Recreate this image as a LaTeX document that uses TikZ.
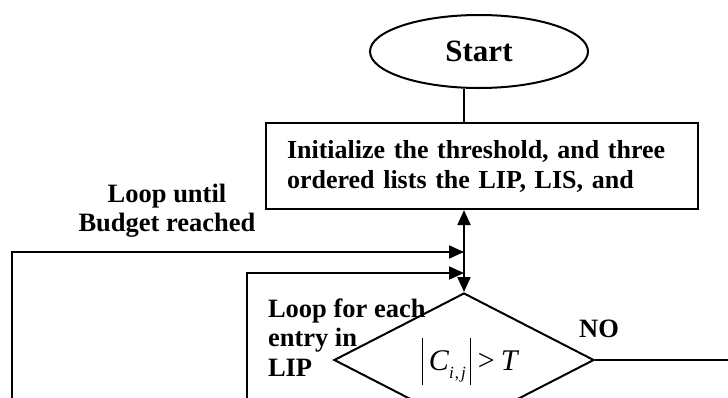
\documentclass[tikz,border=0pt]{standalone}
\usepackage{fontspec}
\setmainfont{Liberation Serif}
\usetikzlibrary{arrows.meta,shapes.geometric}
\begin{document}
\begin{tikzpicture}[x=1pt,y=-1pt,
  line width=2pt,
  lbl/.style={font=\fontsize{26.5}{29.5}\selectfont\bfseries, inner sep=0pt},
  flow/.style={-{Triangle[length=15pt,width=13pt]}},
  twoway/.style={{Triangle[length=15pt,width=13pt]}-{Triangle[length=15pt,width=13pt]}},
]
\useasboundingbox (0,0) rectangle (728,397);
\clip (0,0) rectangle (728,397);

% terminal
\node[draw, ellipse, inner sep=0pt, minimum width=218pt, minimum height=73pt,
      font=\fontsize{31}{31}\selectfont\bfseries] (start) at (479,51.5) {\raisebox{-2.5pt}{Start}};

% initialisation step
\node[draw, line width=2.2pt, minimum width=432pt, minimum height=86pt,
      inner xsep=21pt, inner ysep=0pt, text width=390pt, align=left,
      font=\fontsize{26}{30}\selectfont\bfseries] (box) at (482,166)
  {Initialize the threshold, and three\\ordered lists the LIP, LIS, and};

% decision
\node[draw, diamond, inner sep=0pt, minimum width=260pt, minimum height=134pt] (dia) at (464,360) {};
\node[inner sep=0pt, font=\fontsize{30}{30}\selectfont] (cond) at (470.5,361)
  {\rule[-14pt]{1.1pt}{47pt}\hspace{6pt}\textit{C}\raisebox{-8pt}{\fontsize{17}{17}\selectfont\textit{i}\hspace{1pt},\hspace{2pt}\textit{j}}\hspace{4pt}\rule[-14pt]{1.1pt}{47pt}\hspace{7pt}>\hspace{6pt}\textit{T}};

% labels
\node[lbl, align=center] (budget) at (167,210.5) {Loop until\\Budget reached};
\node[lbl, align=left, anchor=west] (each) at (267,337.5) {Loop for each\\entry in\\LIP};
\node[lbl] (no) at (599,328.5) {NO};

% loop entry points
\coordinate (outer) at (12,400);
\coordinate (inner) at (247,400);
\coordinate (j1) at (dia.north |- 0,252);
\coordinate (j2) at (dia.north |- 0,273);
\coordinate (noend) at (730,360);

% connectors
\draw (start.south -| dia.north) -- (box.north -| dia.north);
\draw[twoway] (box.south -| dia.north) -- (dia.north);
\draw[flow] (outer) |- (j1);
\draw[flow] (inner) |- (j2);
\draw (dia.east) -- (noend);
\end{tikzpicture}
\end{document}
